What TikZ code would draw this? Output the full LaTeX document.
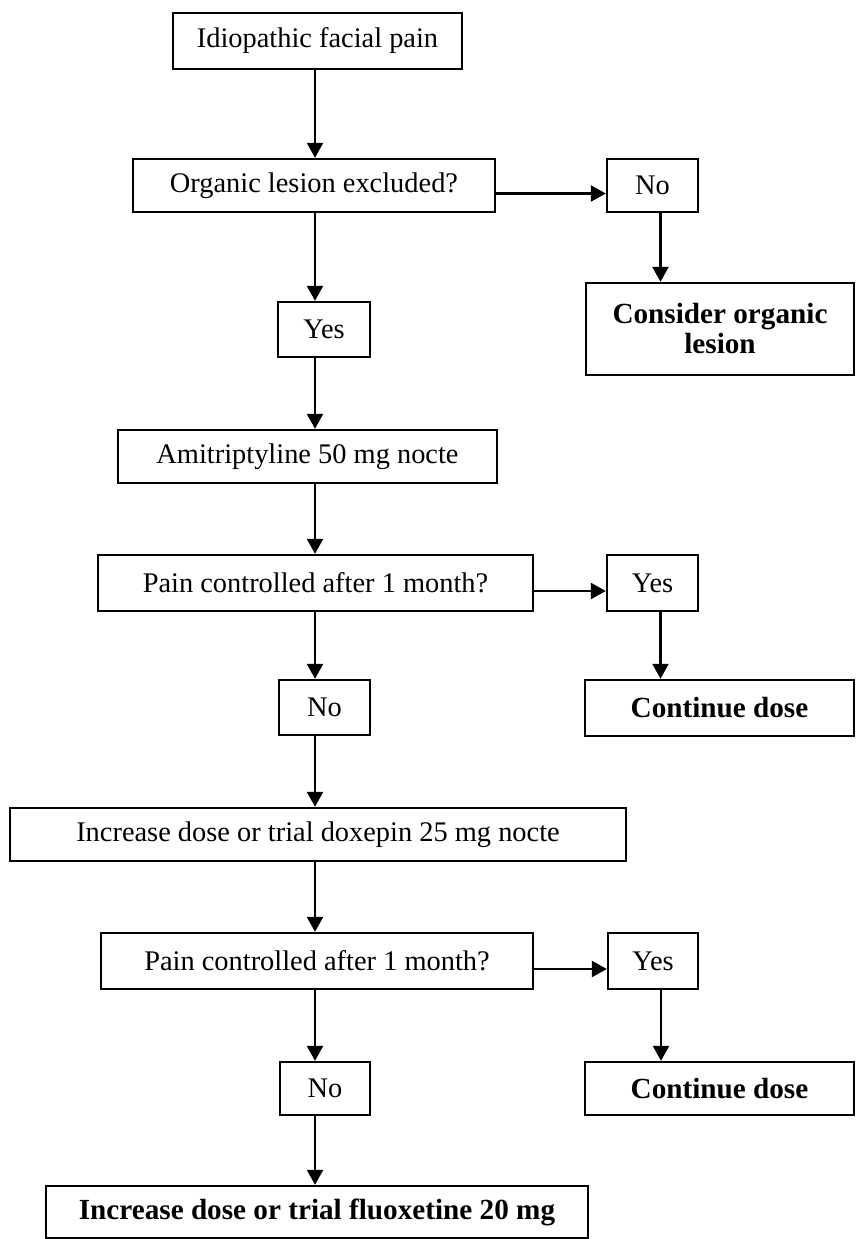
\documentclass[tikz,border=0pt]{standalone}
\usepackage{fontspec}
\setmainfont{Liberation Serif}
\usetikzlibrary{arrows.meta}

\tikzset{
  box/.style={draw, rectangle, inner sep=0pt, align=center, font=\fontsize{14.2pt}{15pt}\selectfont},
  boldbox/.style={box, font=\fontsize{14.6pt}{15pt}\selectfont\bfseries}
}

\begin{document}
\begin{tikzpicture}[x=0.5pt, y=-0.5pt, line width=1.2pt, >={Triangle[length=7.5pt, width=8pt]}]
  \useasboundingbox (0,0) rectangle (856,1239);
  \coordinate (spine) at (315,0);

  \node[box, minimum width=144.5pt, minimum height=28pt] (idio) at (317.5,41) {Idiopathic facial pain};
  \node[box, minimum width=181pt, minimum height=26.5pt] (organic) at (314,185.5) {Organic lesion excluded?};
  \node[box, minimum width=45.5pt, minimum height=26.5pt] (no1) at (652.5,185.5) {No};
  \node[boldbox, minimum width=134pt, minimum height=46pt] (consider) at (720,329) {Consider organic\\lesion};
  \node[box, minimum width=46pt, minimum height=27.5pt] (yes1) at (324,329.5) {Yes};
  \node[box, minimum width=189.5pt, minimum height=26.5pt] (ami) at (307.5,456.5) {Amitriptyline 50 mg nocte};
  \node[box, minimum width=217.5pt, minimum height=28pt] (pain1) at (315.5,583) {Pain controlled after 1 month?};
  \node[box, minimum width=45.5pt, minimum height=28pt] (yes2) at (652.5,583) {Yes};
  \node[boldbox, minimum width=134.5pt, minimum height=28pt] (cont1) at (719.5,708) {Continue dose};
  \node[box, minimum width=45.5pt, minimum height=27.5pt] (no2) at (324.5,707.5) {No};
  \node[box, minimum width=308pt, minimum height=26.5pt] (incr) at (318,834.5) {Increase dose or trial doxepin 25 mg nocte};
  \node[box, minimum width=216pt, minimum height=28pt] (pain2) at (317,961) {Pain controlled after 1 month?};
  \node[box, minimum width=45pt, minimum height=28pt] (yes3) at (653,961) {Yes};
  \node[boldbox, minimum width=134.5pt, minimum height=26.5pt] (cont2) at (719.5,1088.5) {Continue dose};
  \node[box, minimum width=45pt, minimum height=26.5pt] (no3) at (325,1088.5) {No};
  \node[boldbox, minimum width=271pt, minimum height=26pt] (final) at (317,1212) {Increase dose or trial fluoxetine 20 mg};

  \draw[->] (idio.south -| spine) -- (organic.north -| spine);
  \draw[->] (organic.south -| spine) -- (yes1.north -| spine);
  \draw[->] (yes1.south -| spine) -- (ami.north -| spine);
  \draw[->] (ami.south -| spine) -- (pain1.north -| spine);
  \draw[->] (pain1.south -| spine) -- (no2.north -| spine);
  \draw[->] (no2.south -| spine) -- (incr.north -| spine);
  \draw[->] (incr.south -| spine) -- (pain2.north -| spine);
  \draw[->] (pain2.south -| spine) -- (no3.north -| spine);
  \draw[->] (no3.south -| spine) -- (final.north -| spine);

  \draw[->] ([yshift=-4pt]organic.east) -- ([yshift=-4pt]no1.west);
  \draw[->] ([xshift=4pt]no1.south) -- ([xshift=4pt]no1.south |- consider.north);
  \draw[->] ([yshift=-4pt]pain1.east) -- ([yshift=-4pt]yes2.west);
  \draw[->] ([xshift=4pt]yes2.south) -- ([xshift=4pt]yes2.south |- cont1.north);
  \draw[->] ([yshift=-4pt]pain2.east) -- ([yshift=-4pt]yes3.west);
  \draw[->] ([xshift=4pt]yes3.south) -- ([xshift=4pt]yes3.south |- cont2.north);
\end{tikzpicture}
\end{document}
